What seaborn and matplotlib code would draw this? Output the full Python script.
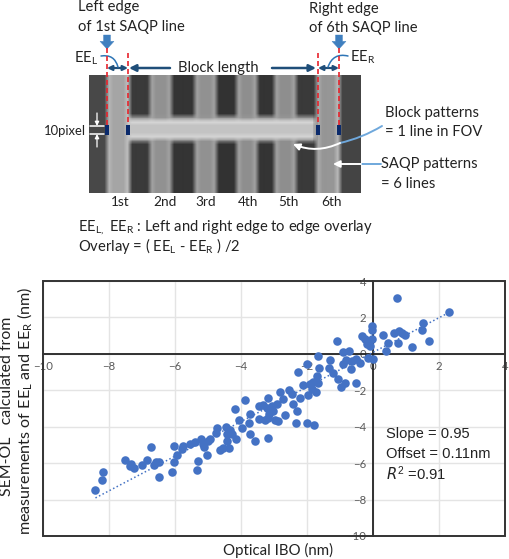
import numpy as np
import pandas as pd
import matplotlib
matplotlib.use("Agg")
import matplotlib.pyplot as plt
import seaborn as sns
from matplotlib.patches import FancyArrowPatch, Rectangle

# scatter values
optical_ibo = [
    -8.41, -8.22, -8.19, -7.52, -7.33, -7.36, -7.23, -6.99, -6.84, -6.73,
    -6.64, -6.59, -6.47, -6.48, -6.10, -6.03, -6.03, -5.94, -5.78, -5.75,
    -5.54, -5.39, -5.22, -5.14, -5.12, -5.32, -5.30, -5.02, -4.99, -4.94,
    -4.77, -4.74, -4.64, -4.54, -4.37, -4.43, -4.45, -4.43, -4.33, -4.28,
    -4.15, -4.17, -4.05, -3.97, -3.88, -3.76, -3.73, -3.72, -3.58, -3.45,
    -3.45, -3.32, -3.28, -3.18, -3.17, -3.22, -3.16,
    0.72, 2.31, 1.52, 1.47, 1.69, 1.19, 0.75, 0.65, 0.80, 0.97,
    0.87, 0.29, 0.44, 0.39, -0.03, -0.04, -0.34, -0.24, -0.04, -0.19,
    -0.09, -1.08, -0.90, -0.72, -1.68, -1.99, -2.26, -1.63, -1.30, -1.32,
    -0.92, -0.82, -0.65, -0.39, -0.14, -0.01, -0.52, -0.67, -1.20, -1.05,
    -0.85, -0.98, -0.52, -1.71, -1.81, -1.91, -2.13, -1.66, -1.86, -1.73,
    -1.96, -2.54, -2.46, -2.82, -2.72, -2.21, -2.43, -2.31, -2.67, -2.33,
    -2.01, -1.78, -3.07, -2.92, -3.02, -3.17, -2.87, -2.97,
]
sem_ol = [
    -7.47, -6.94, -6.50, -5.82, -6.03, -6.17, -6.25, -6.10, -5.82, -5.11,
    -6.10, -5.92, -5.92, -6.76, -6.46, -5.95, -5.05, -5.55, -5.24, -5.07,
    -4.93, -4.82, -4.67, -4.93, -5.09, -6.39, -5.88, -5.55, -4.78, -4.65,
    -4.32, -4.08, -5.29, -5.15, -5.15, -4.78, -4.01, -4.41, -4.19, -4.41,
    -4.69, -3.00, -3.61, -4.05, -2.53, -3.79, -3.28, -4.38, -4.78, -2.86,
    -3.59, -2.80, -3.61, -2.45, -4.63, -2.95, -3.31,
    3.06, 2.29, 1.72, 1.30, 0.68, 0.38, 0.62, 1.14, 1.23, 1.03,
    1.12, 1.04, 0.62, 0.16, 1.54, 1.30, 0.99, 0.81, 0.81, 0.53,
    0.44, 0.71, 0.11, 0.15, -0.13, -0.57, -0.99, -0.77, -0.35, -0.75,
    -0.57, -0.35, -0.38, -0.48, -0.20, -0.29, -0.29, -0.81, -1.03, -1.36,
    -1.58, -1.80, -1.61, -1.21, -1.52, -1.67, -1.70, -1.58, -1.94, -2.12,
    -2.25, -2.00, -2.18, -2.12, -2.49, -2.45, -2.77, -3.13, -3.37, -3.77,
    -3.77, -3.90, -2.86, -2.77, -3.13, -3.50, -3.68, -3.64,
]
x_ticks = [-10, -8, -6, -4, -2, 0, 2, 4]
y_ticks = [-10, -8, -6, -4, -2, 0, 2, 4]

# SEM picture, stripes across (width in px, gray level)
stripe_widths = [18, 4, 15, 4, 20, 4, 14, 4, 23, 4, 14, 4, 20, 4, 13, 4, 17, 4, 14, 4, 20, 4, 16, 4, 21]
stripe_grays = [72, 185, 165, 195, 58, 165, 145, 165, 52, 165, 145, 165, 50, 165, 142, 165, 52,
                165, 142, 165, 58, 175, 150, 190, 68]
block_heights = [41, 4, 3, 12, 4, 3, 51]
block_grays = [None, 150, 225, 195, 215, 140, None]

LINE_BLUE = "#4472c4"
NAVY = "#1f4e79"
RED = "#e8242c"
SKY = "#6fa8dc"
TXT = "#222222"

sns.set_theme(style="white")
plt.rcParams["font.family"] = ["Lato", "DejaVu Sans"]
plt.rcParams["mathtext.default"] = "regular"

df = pd.DataFrame({"ibo": optical_ibo, "sem": sem_ol})

fig = plt.figure(figsize=(5.10, 5.59), dpi=100)
ax = fig.add_axes([43 / 510, 1 - 536 / 559, 462 / 510, 255 / 559])

sns.regplot(
    data=df, x="ibo", y="sem", ax=ax, ci=None,
    scatter_kws={"s": 38, "color": LINE_BLUE, "alpha": 1, "linewidths": 0, "zorder": 4},
    line_kws={"color": LINE_BLUE, "lw": 1.1, "ls": (0, (1, 1.6)), "zorder": 5},
)
ax.set_xlim(-10, 4)
ax.set_ylim(-10, 4)
ax.set_xlabel("")
ax.set_ylabel("")
ax.set_xticks(x_ticks)
ax.set_yticks(y_ticks)
ax.grid(True, color="#e4e4e4", lw=1)
ax.set_axisbelow(True)
for s in ["top", "right"]:
    ax.spines[s].set_visible(False)
for s in ["left", "bottom"]:
    ax.spines[s].set_position("zero")
    ax.spines[s].set_color("#222222")
    ax.spines[s].set_linewidth(1.3)
ax.tick_params(length=0, labelsize=8.2, labelcolor="#595959", pad=5)
ax.add_patch(Rectangle((0, 0), 1, 1, transform=ax.transAxes, fill=False,
                       ec="#333333", lw=1.4, clip_on=False, zorder=6))

ax.text(0.39, -4.40, "Slope = 0.95", family="Liberation Sans", fontsize=10.6, color=TXT, va="center")
ax.text(0.39, -5.49, "Offset = 0.11nm", family="Liberation Sans", fontsize=10.6, color=TXT, va="center")
ax.text(0.39, -6.59, "$\\mathit{R}^{2}$ =0.91", family="Liberation Sans", fontsize=10.6, color=TXT, va="center")

# everything above the chart lives on an overlay in pixel coordinates
top = fig.add_axes([0, 0, 1, 1], zorder=10)
top.patch.set_alpha(0)
top.set_axis_off()

sem = np.tile(np.repeat(stripe_grays, stripe_widths), (sum(block_heights), 1)).astype(float)
row = 0
for h, g in zip(block_heights, block_grays):
    if g is not None:
        if g > 170:
            sem[row:row + h, 41:227] = g
        else:
            sem[row:row + h, 41:227] = np.maximum(sem[row:row + h, 41:227], g)
    row += h


def soften(line):
    # small box blur so the stripes do not look cut out
    padded = np.pad(line, 2, mode="edge")
    return np.convolve(padded, np.ones(5) / 5, mode="valid")


sem = np.apply_along_axis(soften, 0, sem)
sem = np.apply_along_axis(soften, 1, sem)
top.imshow(sem, cmap="gray", vmin=0, vmax=255, extent=(89, 361, 193, 75),
           interpolation="bilinear", aspect="auto")
top.set_xlim(0, 510)
top.set_ylim(559, 0)
top.set_axis_off()


def label(x, y, s, size=10.6, color=TXT, **kw):
    top.text(x, y, s, fontsize=size, color=color, va="center", **kw)


def arrow(a, b, style="-|>", color=NAVY, lw=1.6, rad=0.0, scale=9):
    top.add_patch(FancyArrowPatch(a, b, arrowstyle=style, color=color, lw=lw, mutation_scale=scale,
                                  connectionstyle=f"arc3,rad={rad}", shrinkA=0, shrinkB=0))


label(78, 7, "Left edge")
label(78, 27, "of 1st SAQP line")
label(309, 9, "Right edge")
label(309, 28, "of 6th SAQP line")
label(74, 58, "$EE_{L}$")
label(350, 57, "$EE_{R}$")
label(178, 68, "Block length")
label(44, 131, "10pixel", size=9.4)
label(385, 113, "Block patterns")
label(385, 132, "= 1 line in FOV")
label(381, 164, "SAQP patterns")
label(381, 184, "= 6 lines")
label(78, 227, "$EE_{L,}$ $EE_{R}$ : Left and right edge to edge overlay")
label(78, 246, "Overlay = ( $EE_{L}$ - $EE_{R}$ ) /2")

for x, s in zip([120, 165, 206, 248, 288, 332], ["1st", "2nd", "3rd", "4th", "5th", "6th"]):
    label(x, 202, s, size=9.8, ha="center")

# thick blue arrows pointing at the edges
arrow((107, 35), (107, 49), style="simple,head_width=1.0,head_length=0.55,tail_width=0.5", color="#3f7fbf", lw=0.3, scale=10)
arrow((339, 35), (339, 49), style="simple,head_width=1.0,head_length=0.55,tail_width=0.5", color="#3f7fbf", lw=0.3, scale=10)

# edge markers
for x, y0 in zip([107, 128, 318, 339], [48, 53, 53, 48]):
    top.plot([x, x], [y0, 125], color=RED, lw=1.2, ls=(0, (3, 1.8)))
    top.add_patch(Rectangle((x - 1.5, 125), 3.2, 10, color="#0b2a6b", lw=0))

# dimension arrows
arrow((107, 68), (128, 68), style="<|-|>", scale=7)
arrow((318, 68), (339, 68), style="<|-|>", scale=7)
arrow((170, 68), (129, 68), lw=1.8, scale=10)
arrow((272, 68), (316, 68), lw=1.8, scale=10)
arrow((101, 56), (118, 67), style="-", rad=-0.45, color="#2e75b6", lw=1.1)
arrow((348, 56), (328, 67), style="-", rad=0.45, color="#2e75b6", lw=1.1)

# 10 pixel bracket
top.plot([90, 104], [126, 126], color="white", lw=1.1)
top.plot([90, 104], [134, 134], color="white", lw=1.1)
arrow((97, 113), (97, 126), color="white", lw=0.9, scale=6)
arrow((97, 147), (97, 134), color="white", lw=0.9, scale=6)

# callouts
arrow((382, 126), (340, 143), style="-", color=SKY, lw=1.4, rad=-0.08)
arrow((340, 143), (293, 144), color="white", lw=1.4, rad=-0.22, scale=10)
arrow((381, 164), (361, 164), style="-", color=SKY, lw=1.4)
arrow((361, 164), (333, 164), color="white", lw=1.4, scale=10)

# axis titles
top.text(7, 406, "SEM-OL   calculated from", rotation=90, fontsize=11.4, color=TXT, ha="center", va="center")
top.text(25, 411, "measurements of $EE_{L}$ and $EE_{R}$ (nm)", rotation=90, fontsize=11.6, color=TXT, ha="center", va="center")
top.text(278, 550, "Optical IBO (nm)", fontsize=10.8, color=TXT, ha="center", va="center")

fig.savefig("out.png", dpi=100)
